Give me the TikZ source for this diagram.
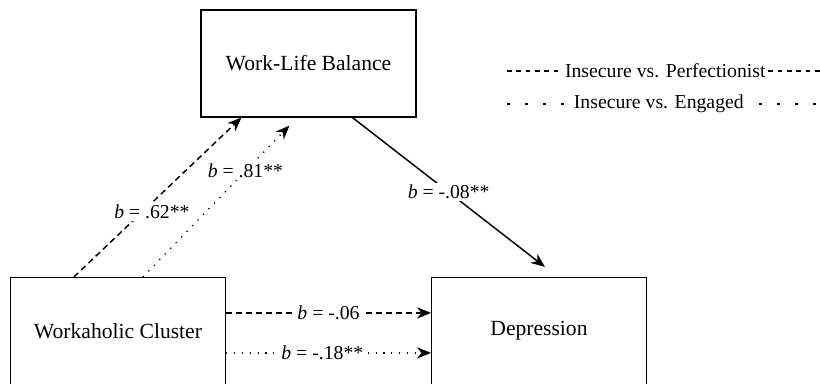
\documentclass[tikz,border=0pt]{standalone}
\usepackage{fontspec}
\setmainfont{Liberation Serif}
\usepackage{tikz}
\usetikzlibrary{
  calc,          % Offsets from box corners
  arrows.meta    % Stealth tips
}

\tikzset{
  box/.style={draw, line width=1.1pt, minimum width=161pt, minimum height=80pt,
    font=\fontsize{16.2}{19}\selectfont},
  lbl/.style={fill=white, inner sep=1.5pt, font=\fontsize{14.8}{17}\selectfont},
  tip/.style={-{Stealth[length=10.5pt, width=8.5pt]}},
  dashline/.style={line width=1.1pt, dash pattern=on 4.5pt off 3pt},
  dotline/.style={line width=1pt, dash pattern=on 0.9pt off 5pt},
  legdash/.style={line width=0.8pt, dash pattern=on 3.5pt off 3.5pt},
  legdot/.style={line width=2.2pt, dash pattern=on 2.2pt off 11.3pt}
}

\begin{document}
\begin{tikzpicture}[x=0.75pt, y=-0.75pt]
    % Frame
    \path[use as bounding box] (0,0) rectangle (820,384);
    \clip (0,0) rectangle (820,384);

    % Boxes
    \node[box] (wlb) at (308.5,63.5) {Work-Life Balance};
    \node[box] (wc) at (118,331) {Workaholic Cluster};
    \node[box] (dep) at (539,331) {Depression};

    % Paths to Work-Life Balance
    \draw[dashline, tip] ($(wc.north west)+(64,0)$) --
        node[lbl, pos=0.41, xshift=7pt] (bA) {\textit{b} = .62**} ($(wlb.south west)+(41,0)$);
    \draw[dotline, tip] ($(wc.north west)+(133,0)$) --
        node[lbl, pos=0.70] (bB) {\textit{b} = .81**} ($(wlb.south west)+(89,8)$);

    % Path to Depression
    \draw[line width=1.1pt, tip] ($(wlb.south west)+(152,0)$) --
        node[lbl, pos=0.5] (bC) {\textit{b} = -.08**} ($(dep.north west)+(114,-10)$);

    % Direct paths
    \draw[dashline, tip] ($(wc.north east)+(0,36)$) --
        node[lbl, midway] (bD) {\textit{b} = -.06} ($(dep.north west)+(0,36)$);
    \draw[dotline, tip] ($(wc.north east)+(0,76)$) --
        node[lbl, pos=0.47] (bE) {\textit{b} = -.18**} ($(dep.north west)+(0,76)$);

    % Legend
    \coordinate (legA) at (507,71);
    \coordinate (legB) at (830,71);
    \coordinate (legC) at (507,104);
    \coordinate (legD) at (830,104);
    \draw[legdash] (legA) -- node[lbl, pos=0.49] (legP) {Insecure vs. Perfectionist} (legB);
    \draw[legdot] (legC) -- node[lbl, pos=0.47, inner sep=5pt] (legE) {Insecure vs. Engaged} (legD);
\end{tikzpicture}
\end{document}
